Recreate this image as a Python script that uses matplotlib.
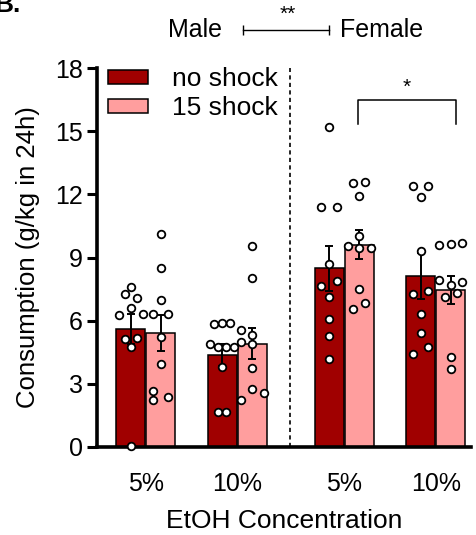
"""Recreate panel B: EtOH consumption by sex, concentration and shock."""

import matplotlib
matplotlib.use("Agg")
import matplotlib.pyplot as plt
from matplotlib.patches import Patch
import numpy as np

plt.rcParams["font.family"] = ["Liberation Sans", "DejaVu Sans"]

# ---- data ------------------------------------------------------------------
tick_labels = ["5%", "10%", "5%", "10%"]
series = ["no shock", "15 shock"]

mean_no = [5.59, 4.37, 8.48, 8.12]
sem_no = [0.71, 0.50, 1.08, 1.09]
mean_sh = [5.40, 4.91, 9.61, 7.45]
sem_sh = [0.86, 0.73, 0.70, 0.65]

pts_no = [
    [7.61, 7.25, 7.06, 6.62, 6.27, 6.30, 5.13, 5.19, 4.76, 0.06],
    [5.82, 5.90, 5.90, 4.89, 4.73, 4.73, 4.73, 3.78, 1.65, 1.65],
    [15.21, 11.41, 11.41, 8.69, 7.66, 7.88, 7.14, 6.08, 5.27, 4.16],
    [12.39, 12.39, 11.86, 9.32, 7.26, 7.41, 6.30, 5.40, 4.73, 4.40],
]
pts_sh = [
    [10.10, 8.48, 7.00, 6.30, 6.30, 5.24, 3.94, 2.67, 2.23, 2.39],
    [9.54, 8.01, 5.56, 5.32, 4.97, 4.89, 3.77, 2.74, 2.55, 2.23],
    [12.55, 12.60, 11.93, 10.02, 9.54, 9.43, 9.46, 7.50, 6.85, 6.55],
    [9.59, 9.62, 9.67, 7.93, 7.82, 7.69, 7.11, 7.30, 4.29, 3.72],
]

# horizontal swarm slots for the dots (layout only)
jit_no = [
    [0, -1, 1, 0, -2, 2, -1, 1, 0, 0],
    [-1.4, 0, 1.33, -2, -0.67, 0.67, 2, 0, -0.67, 0.67],
    [0, -1.33, 1.33, 0, -1.33, 1.33, 0, 0, 0, 0],
    [-1.33, 1.2, 0, 0, -1.33, 1.2, 0, 0, 1.2, -1.33],
]
jit_sh = [
    [0, 0, 0, -1.3, 1.3, 0, 0, -1.3, -1.3, 1.3],
    [0, 0, -1.9, 0, -1.9, 0, 0, 0, 1.9, -1.9],
    [-1, 1, 0, 0, -1.9, 0, 1.9, 0, 1, -1],
    [-1.9, 0, 1.9, -1.9, 1.9, 0, -1, 1, 0, 0],
]

# ---- layout -----------------------------------------------------------------
W, H = 477, 535
PX = 1 / 91.5  # data units per pixel along x
group_x = np.array([0.0, 1.0, 2.17, 3.17])
bar_w = 29 * PX
off = 15 * PX
slot = 6 * PX
dark = "#A00000"
light = "#FF9E9E"

fig = plt.figure(figsize=(W / 100, H / 100), dpi=100)
ax = fig.add_axes([97 / W, 1 - 447 / H, (471 - 97) / W, (447 - 68) / H])

for xs, means, sems, pts, jit, color in (
    (group_x - off, mean_no, sem_no, pts_no, jit_no, dark),
    (group_x + off, mean_sh, sem_sh, pts_sh, jit_sh, light),
):
    ax.bar(xs, means, width=bar_w, color=color, edgecolor="black",
           linewidth=1.1, zorder=2)
    ax.errorbar(xs, means, yerr=sems, fmt="none", ecolor="black",
                elinewidth=1.4, capsize=3, capthick=1.4, zorder=3)
    for x, vals, j in zip(xs, pts, jit):
        ax.scatter(x + np.asarray(j) * slot, vals, s=30, facecolor="white",
                   edgecolor="black", linewidth=1.3, zorder=4, clip_on=False)

ax.axvline(1.577, color="black", linestyle=(0, (2.5, 2)), linewidth=1.2,
           zorder=1)

ax.set_xlim(-0.532, -0.532 + (471 - 97) * PX)
ax.set_ylim(0, 18)
ax.set_yticks([0, 3, 6, 9, 12, 15, 18])
ax.set_xticks(group_x)
ax.set_xticklabels(tick_labels)
ax.tick_params(axis="y", direction="out", length=7, width=2.2,
               labelsize=18, pad=3)
ax.tick_params(axis="x", length=0, labelsize=18, pad=18)
for side in ("top", "right"):
    ax.spines[side].set_visible(False)
for side in ("left", "bottom"):
    ax.spines[side].set_linewidth(2.6)
ax.set_ylabel("Consumption (g/kg in 24h)", fontsize=18.5, labelpad=11)
ax.set_xlabel("EtOH Concentration", fontsize=19, labelpad=9)

handles = [Patch(facecolor=dark, edgecolor="black", linewidth=1.1),
           Patch(facecolor=light, edgecolor="black", linewidth=1.1)]
ax.legend(handles, series, loc="upper left", bbox_to_anchor=(0.0, 1.03),
          frameon=False, fontsize=19, handlelength=1.55, handleheight=0.45,
          handletextpad=0.9, labelspacing=0.2, borderaxespad=0)

# significance bracket over the female 10% group
bx0, bx1 = group_x[2] + off - 1.5 * PX, group_x[3] + off + 5 * PX
ax.plot([bx0, bx0, bx1, bx1], [15.35, 16.5, 16.5, 15.35], color="black",
        linewidth=1.1, clip_on=False)
ax.text((bx0 + bx1) / 2, 17.1, "*", ha="center", va="center", fontsize=15)

# sex comparison above the plot
ax.plot([1.06, 2.0], [19.8, 19.8], color="black", linewidth=1.0,
        clip_on=False)
ax.plot([1.06, 2.0], [19.8, 19.8], linestyle="none", marker="|",
        markersize=7, markeredgewidth=1.0, color="black", clip_on=False)
ax.text(0.83, 19.8, "Male", ha="right", va="center", fontsize=18)
ax.text(2.12, 19.8, "Female", ha="left", va="center", fontsize=18)
ax.text(1.55, 20.55, "**", ha="center", va="center", fontsize=15)

fig.text(-6 / W, 1 - 12 / H, "B.", fontsize=19, fontweight="bold",
         ha="left", va="baseline")

fig.savefig("out.png", dpi=100)
